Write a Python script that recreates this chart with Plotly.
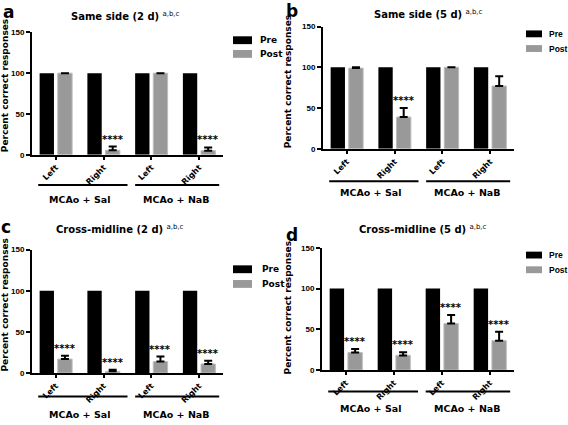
import plotly.graph_objects as go

# ---- data ----
categories = ["Sal-Left", "Sal-Right", "NaB-Left", "NaB-Right"]
tick_labels = ["Left", "Right", "Left", "Right"]
group_labels = ["MCAo + Sal", "MCAo + NaB"]
series_names = ["Pre", "Post"]
panel_titles = ["Same side (2 d)", "Same side (5 d)", "Cross-midline (2 d)", "Cross-midline (5 d)"]
panel_letters = ["a", "b", "c", "d"]

pre_a = [100, 100, 100, 100]
post_a = [100, 5.5, 100, 5]
err_a = [0, 4.5, 0, 4]
sig_a = ["", "****", "", "****"]

pre_b = [100, 100, 100, 100]
post_b = [99, 39, 100, 77]
err_b = [1, 11, 0, 12]
sig_b = ["", "****", "", ""]

pre_c = [100, 100, 100, 100]
post_c = [17, 2, 14, 11]
err_c = [4, 2, 6, 4]
sig_c = ["****", "****", "****", "****"]

pre_d = [100, 100, 100, 100]
post_d = [21.5, 18, 57, 36]
err_d = [4.5, 4, 10.5, 11]
sig_d = ["****", "****", "****", "****"]

y_ticks = [0, 50, 100, 150]

W, H = 568, 425
FONT = "DejaVu Sans"
TICK_FONT = "Liberation Sans"
PRE_COLOR = "#000000"
POST_COLOR = "#999999"

# panel layout in pixels: box = (x_left, x_right, y_top, y_bottom)
# legend = (box_x, box_width, box_height, first_top, step, text_x, font_family, font_size)
panels = [
    dict(box=(32, 223, 29, 154), pre=pre_a, post=post_a, err=err_a, sig=sig_a,
         title_xy=(125, 12), letter_xy=(8, 8), ylab_xy=(5, 84), group_line_y=185, group_lab_y=200,
         legend=(233, 19, 8, 33, 14, 258, FONT, 9)),
    dict(box=(323, 514, 23, 148), pre=pre_b, post=post_b, err=err_b, sig=sig_b,
         title_xy=(428, 10), letter_xy=(292, 7), ylab_xy=(288, 80), group_line_y=181, group_lab_y=193,
         legend=(526, 16, 7, 27, 15, 547, TICK_FONT, 8.5)),
    dict(box=(32, 223, 251, 377), pre=pre_c, post=post_c, err=err_c, sig=sig_c,
         title_xy=(120, 230), letter_xy=(6, 228), ylab_xy=(5, 308), group_line_y=401, group_lab_y=419,
         legend=(233, 19, 8, 267, 15, 260, FONT, 9)),
    dict(box=(322, 514, 249, 374), pre=pre_d, post=post_d, err=err_d, sig=sig_d,
         title_xy=(423, 230), letter_xy=(292, 236), ylab_xy=(288, 311), group_line_y=396, group_lab_y=413,
         legend=(526, 16, 7, 253, 15, 547, TICK_FONT, 8.5)),
]

def px_x(x):
    return x / W

def px_y(y):
    return 1 - y / H

fig = go.Figure()
annotations = []
shapes = []
layout_axes = {}

for i, p in enumerate(panels):
    n = i + 1
    xa = "x" if n == 1 else f"x{n}"
    ya = "y" if n == 1 else f"y{n}"
    fig.add_trace(go.Bar(
        x=categories, y=p["pre"], name=series_names[0], xaxis=xa, yaxis=ya, showlegend=False,
        marker=dict(color=PRE_COLOR, line=dict(width=0)), offsetgroup="pre",
    ))
    fig.add_trace(go.Bar(
        x=categories, y=p["post"], name=series_names[1], xaxis=xa, yaxis=ya, showlegend=False,
        marker=dict(color=POST_COLOR, line=dict(color="#bdbdbd", width=1)), offsetgroup="post",
        error_y=dict(type="data", array=p["err"], arrayminus=[0] * 4, symmetric=False,
                     color="black", thickness=2, width=4),
    ))
    x0, x1, yt, yb = p["box"]
    xkey = "xaxis" if n == 1 else f"xaxis{n}"
    ykey = "yaxis" if n == 1 else f"yaxis{n}"
    layout_axes[xkey] = dict(
        domain=[px_x(x0), px_x(x1)], anchor=ya, range=[-0.5, 3.5],
        tickmode="array", tickvals=categories, ticktext=[f"<b>{t}</b>" for t in tick_labels], tickangle=-45,
        showline=True, linecolor="black", linewidth=2, ticks="outside", ticklen=3,
        tickwidth=2, tickcolor="black", showgrid=False, zeroline=False,
        tickfont=dict(family=FONT, size=8, color="black"),
        fixedrange=True,
    )
    layout_axes[ykey] = dict(
        domain=[px_y(yb), px_y(yt)], anchor=xa, range=[0, 150],
        tickmode="array", tickvals=y_ticks, ticktext=[f"<b>{v}</b>" for v in y_ticks],
        showline=True, linecolor="black", linewidth=2, ticks="outside", ticklen=4,
        tickwidth=2, tickcolor="black", showgrid=False, zeroline=False,
        tickfont=dict(family=TICK_FONT, size=8, color="black"),
        fixedrange=True,
    )
    # legend (drawn by hand to match the box shapes)
    bx, bw, bh, top0, step, txt_x, ffam, fsz = p["legend"]
    for k, (nm, col) in enumerate(zip(series_names, [PRE_COLOR, POST_COLOR])):
        top = top0 + k * step
        shapes.append(dict(
            type="rect", xref="paper", yref="paper",
            x0=px_x(bx), x1=px_x(bx + bw), y0=px_y(top + bh), y1=px_y(top),
            fillcolor=col, line=dict(width=0),
        ))
        annotations.append(dict(
            text=f"<b>{nm}</b>", x=px_x(txt_x), y=px_y(top + bh / 2), xref="paper", yref="paper",
            showarrow=False, xanchor="left", yanchor="middle",
            font=dict(family=ffam, size=fsz, color="black"),
        ))
    # title
    tx, ty = p["title_xy"]
    annotations.append(dict(
        text=f"<b>{panel_titles[i]}</b> <sup>a,b,c</sup>", x=px_x(tx), y=px_y(ty), xref="paper", yref="paper",
        showarrow=False, xanchor="center", yanchor="middle",
        font=dict(family=FONT, size=10, color="black"),
    ))
    # panel letter
    lx, ly = p["letter_xy"]
    annotations.append(dict(
        text=f"<b>{panel_letters[i]}</b>", x=px_x(lx), y=px_y(ly), xref="paper", yref="paper",
        showarrow=False, xanchor="center", yanchor="middle",
        font=dict(family=FONT, size=17, color="black"),
    ))
    # y-axis label
    yx, yy = p["ylab_xy"]
    annotations.append(dict(
        text="<b>Percent correct responses</b>", x=px_x(yx), y=px_y(yy), xref="paper", yref="paper",
        showarrow=False, xanchor="center", yanchor="middle", textangle=-90,
        font=dict(family=FONT, size=9, color="black"),
    ))
    # significance marks
    for c, v, e, s in zip(categories, p["post"], p["err"], p["sig"]):
        if s:
            annotations.append(dict(
                text=f"<b>{s}</b>", x=c, y=v + e, xref=xa, yref=ya, xshift=9,
                showarrow=False, xanchor="center", yanchor="bottom",
                font=dict(family=FONT, size=10, color="black"),
            ))
    # group lines and labels
    for (gs, ge), gc, gl in zip([(-0.37, 1.5), (1.66, 3.42)], [0.5, 2.52], group_labels):
        shapes.append(dict(
            type="line", xref=xa, yref="paper", x0=gs, x1=ge,
            y0=px_y(p["group_line_y"]), y1=px_y(p["group_line_y"]),
            line=dict(color="black", width=2),
        ))
        annotations.append(dict(
            text=f"<b>{gl}</b>", x=gc, y=px_y(p["group_lab_y"]), xref=xa, yref="paper",
            showarrow=False, xanchor="center", yanchor="middle",
            font=dict(family=FONT, size=9.5, color="black"),
        ))

fig.update_layout(
    width=W, height=H, margin=dict(l=0, r=0, t=0, b=0),
    paper_bgcolor="white", plot_bgcolor="white",
    barmode="group", bargap=0.24, bargroupgap=0.21,
    showlegend=False, annotations=annotations, shapes=shapes,
    **layout_axes,
)

fig.write_html(
    "out.html",
    config={"displayModeBar": False},
    post_script="document.body.style.margin='0px';document.body.style.overflow='hidden';",
)
